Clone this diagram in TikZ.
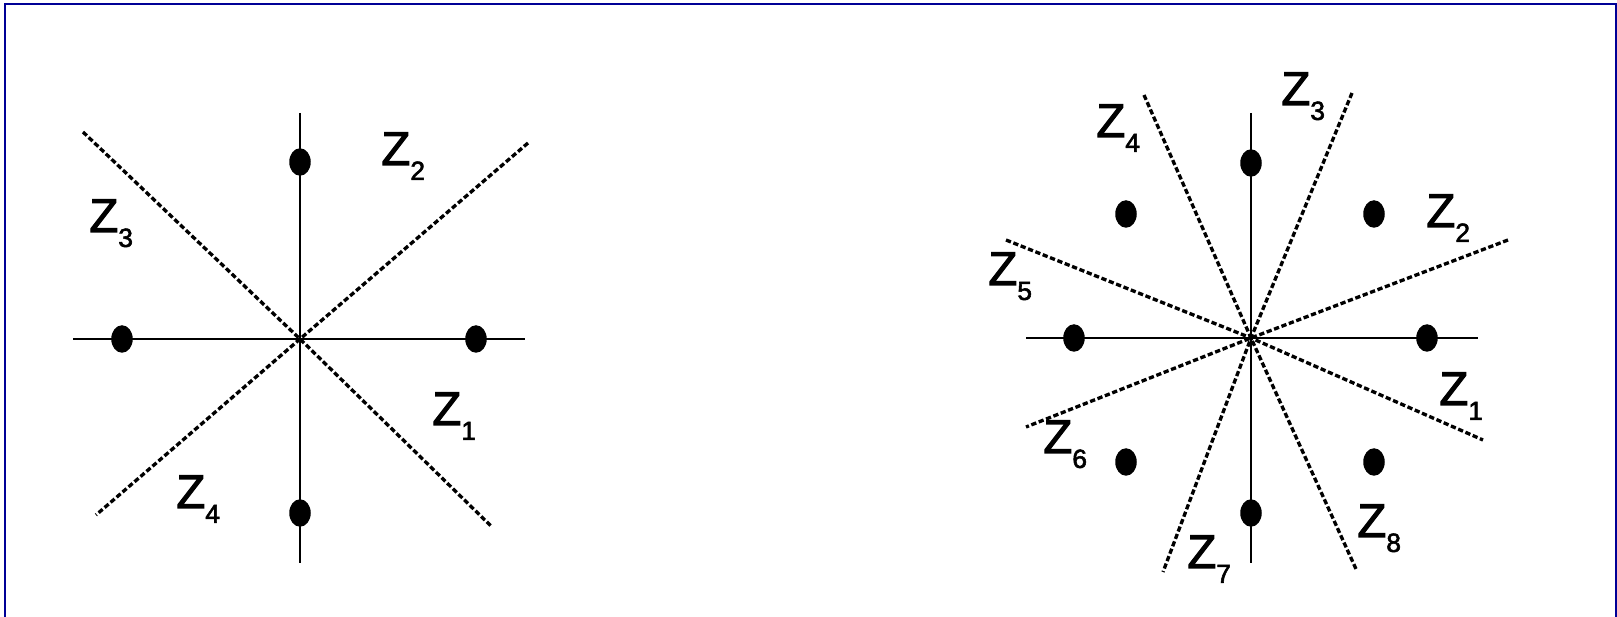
\documentclass[tikz,border=0pt]{standalone}
\usepackage{fontspec}
\setmainfont{Liberation Sans}
\newfontfamily\zfont[FakeBold=2.2]{Liberation Sans}
\usepackage{tikz}
\usepackage{xcolor}
\usetikzlibrary{positioning, calc, shapes.geometric}
\definecolor{framecol}{RGB}{0,0,150}
\definecolor{inkcol}{RGB}{0,0,0}
\newcommand{\zsub}[1]{Z\raisebox{-8.5pt}{\fontsize{15}{15}\selectfont #1}}
\tikzset{
  axisthin/.style={inkcol,line width=0.9pt},
  axisthick/.style={inkcol,line width=1.6pt},
  cutline/.style={inkcol,line width=1.9pt,dash pattern=on 3pt off 1.5pt},
  rootdot/.style={ellipse,fill=inkcol,inner sep=0pt,minimum width=0.43cm,minimum height=0.55cm},
  zlab/.style={anchor=base west,inner sep=0pt,font=\zfont\fontsize{27}{28}\selectfont,text=inkcol},
}

\begin{document}
\begin{tikzpicture}[x=0.02cm,y=-0.02cm]
  \useasboundingbox (0,0) rectangle (1617,617);
  % frame (bottom edge runs off the page)
  \draw[framecol,line width=0.04cm] (5,617) -- (5,4) -- (1615.5,4) -- (1615.5,617);
  % left picture: four roots
  \coordinate (OL) at (300,339);
  \coordinate (hLw) at (73,339);  \coordinate (hLe) at (525,339);
  \coordinate (vLn) at (300,113); \coordinate (vLs) at (300,563);
  \coordinate (dLnw) at (83,132);  \coordinate (dLse) at (492,527);
  \coordinate (dLne) at (528,143); \coordinate (dLsw) at (96,515);
  \draw[axisthin] (hLw) -- (hLe);
  \draw[axisthin] (vLn) -- (vLs);
  \draw[cutline] (dLnw) -- (OL) -- (dLse);
  \draw[cutline] (dLne) -- (OL) -- (dLsw);
  \node[rootdot] (rL1) at (476,339) {};
  \node[rootdot] (rL2) at (300,162) {};
  \node[rootdot] (rL3) at (122,339) {};
  \node[rootdot] (rL4) at (300,513) {};
  \node[zlab] (zL1) at (432,425) {\zsub{1}};
  \node[zlab] (zL2) at (381,165) {\zsub{2}};
  \node[zlab] (zL3) at (89,232)  {\zsub{3}};
  \node[zlab] (zL4) at (176,508) {\zsub{4}};
  % right picture: eight roots
  \coordinate (OR) at (1251,338);
  \coordinate (hRw) at (1026,338); \coordinate (hRe) at (1478,338);
  \coordinate (vRn) at (1251,113); \coordinate (vRs) at (1251,563);
  \coordinate (dRa1) at (1144,95);  \coordinate (dRa2) at (1356,569);
  \coordinate (dRb1) at (1352,93);  \coordinate (dRb2) at (1163,572);
  \coordinate (dRc1) at (1006,240); \coordinate (dRc2) at (1483,440);
  \coordinate (dRd1) at (1508,240); \coordinate (dRd2) at (1026,427);
  \draw[axisthick] (hRw) -- (hRe);
  \draw[axisthick] (vRn) -- (vRs);
  \draw[cutline] (dRa1) -- (OR) -- (dRa2);
  \draw[cutline] (dRb1) -- (OR) -- (dRb2);
  \draw[cutline] (dRc1) -- (OR) -- (dRc2);
  \draw[cutline] (dRd1) -- (OR) -- (dRd2);
  \node[rootdot] (rR1) at (1427,338) {};
  \node[rootdot] (rR2) at (1374,214) {};
  \node[rootdot] (rR3) at (1251,163) {};
  \node[rootdot] (rR4) at (1126,214) {};
  \node[rootdot] (rR5) at (1074,338) {};
  \node[rootdot] (rR6) at (1126,462) {};
  \node[rootdot] (rR7) at (1251,513) {};
  \node[rootdot] (rR8) at (1374,462) {};
  \node[zlab] (zR1) at (1439,405) {\zsub{1}};
  \node[zlab] (zR2) at (1426,227) {\zsub{2}};
  \node[zlab] (zR3) at (1281,105) {\zsub{3}};
  \node[zlab] (zR4) at (1096,137) {\zsub{4}};
  \node[zlab] (zR5) at (988,285)  {\zsub{5}};
  \node[zlab] (zR6) at (1043,453) {\zsub{6}};
  \node[zlab] (zR7) at (1187,568) {\zsub{7}};
  \node[zlab] (zR8) at (1357,537) {\zsub{8}};
\end{tikzpicture}
\end{document}
